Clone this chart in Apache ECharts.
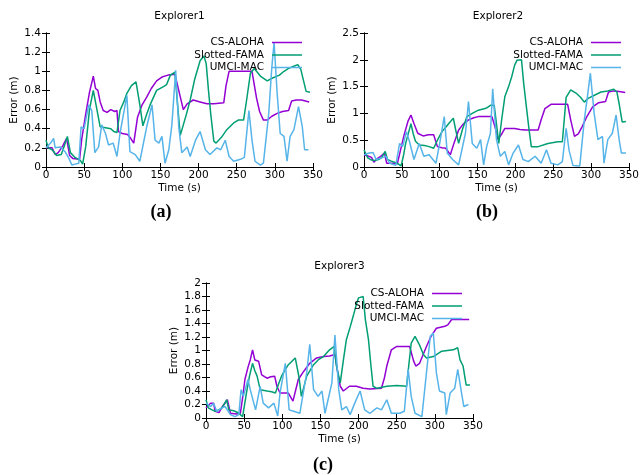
<!DOCTYPE html>
<html>
<head>
<meta charset="utf-8">
<script src="https://cdn.jsdelivr.net/npm/echarts@6/dist/echarts.min.js"></script>
<style>
  html, body { margin: 0; padding: 0; background: #fff; }
  #chart { width: 642px; height: 475px; }
</style>
</head>
<body>
<div id="chart"></div>
<script>
// series names and colours (gnuplot defaults)
var names = ['CS-ALOHA', 'Slotted-FAMA', 'UMCI-MAC'];
var colors = ['#9400d3', '#009e73', '#56b4e9'];
var panelTitles = ['Explorer1', 'Explorer2', 'Explorer3'];
var captions = ['(a)', '(b)', '(c)'];
var yMax = [1.4, 2.5, 2];
var yStep = [0.2, 0.5, 0.2];

// Explorer1 [time (s), error (m)]
var e1Aloha = [[0,0.20],[8,0.20],[12,0.13],[16,0.15],[22,0.22],[27,0.30],[31,0.12],[35,0.09],[44,0.08],[47,0.30],[52,0.55],[57,0.78],[62,0.95],[65,0.82],[68,0.80],[71,0.68],[75,0.59],[80,0.57],[85,0.60],[90,0.58],[93,0.59],[95,0.37],[100,0.35],[107,0.34],[111,0.30],[115,0.25],[120,0.52],[126,0.65],[132,0.73],[138,0.82],[145,0.90],[152,0.94],[160,0.96],[169,0.97],[174,0.80],[180,0.60],[185,0.66],[193,0.70],[202,0.68],[211,0.66],[220,0.66],[233,0.67],[236,0.85],[240,1.00],[255,1.00],[270,1.00],[276,0.72],[280,0.58],[285,0.49],[290,0.49],[296,0.53],[303,0.56],[310,0.58],[318,0.59],[322,0.69],[328,0.70],[335,0.70],[340,0.69],[345,0.68]];
var e1Fama = [[0,0.28],[3,0.20],[8,0.18],[14,0.12],[20,0.13],[24,0.22],[28,0.32],[32,0.15],[38,0.10],[45,0.07],[48,0.03],[52,0.21],[57,0.60],[62,0.80],[67,0.59],[71,0.42],[78,0.41],[85,0.40],[89,0.37],[93,0.36],[97,0.59],[102,0.68],[106,0.77],[112,0.85],[118,0.89],[123,0.65],[127,0.43],[132,0.55],[137,0.66],[145,0.80],[154,0.84],[158,0.86],[163,0.96],[169,0.99],[173,0.60],[176,0.33],[178,0.32],[184,0.55],[189,0.70],[195,0.92],[202,1.11],[207,1.16],[210,1.08],[213,0.80],[216,0.55],[220,0.27],[223,0.25],[230,0.31],[237,0.39],[246,0.46],[252,0.49],[259,0.49],[263,0.70],[268,0.98],[273,1.03],[281,0.95],[290,0.90],[297,0.93],[306,0.96],[312,1.00],[318,1.03],[324,1.05],[330,1.07],[334,1.02],[337,0.92],[341,0.79],[346,0.78]];
var e1Umci = [[0,0.20],[6,0.25],[10,0.30],[12,0.20],[19,0.21],[25,0.16],[30,0.09],[34,0.02],[38,0.03],[43,0.04],[46,0.42],[50,0.40],[56,0.65],[60,0.59],[64,0.15],[69,0.21],[73,0.44],[78,0.35],[82,0.23],[88,0.25],[93,0.11],[97,0.35],[104,0.66],[106,0.75],[110,0.16],[117,0.13],[123,0.06],[132,0.42],[139,0.65],[143,0.28],[148,0.25],[152,0.32],[156,0.04],[161,0.18],[165,0.44],[170,1.01],[174,0.42],[178,0.15],[185,0.21],[189,0.11],[196,0.28],[202,0.37],[209,0.18],[215,0.13],[224,0.20],[229,0.18],[235,0.28],[240,0.11],[246,0.06],[255,0.08],[260,0.10],[266,0.59],[270,0.28],[274,0.06],[281,0.02],[285,0.04],[292,0.56],[296,1.04],[299,1.30],[303,0.77],[307,0.35],[312,0.32],[316,0.06],[320,0.32],[325,0.39],[331,0.63],[336,0.42],[339,0.18],[344,0.18]];

// Explorer2
var e2Aloha = [[0,0.23],[6,0.20],[10,0.18],[13,0.09],[17,0.15],[22,0.20],[27,0.26],[30,0.07],[38,0.07],[44,0.06],[48,0.30],[53,0.60],[58,0.85],[62,0.97],[66,0.81],[71,0.63],[78,0.58],[85,0.60],[92,0.60],[97,0.38],[103,0.36],[108,0.35],[114,0.23],[119,0.45],[125,0.69],[131,0.80],[138,0.88],[145,0.92],[151,0.94],[160,0.94],[169,0.94],[174,0.70],[177,0.51],[182,0.62],[186,0.72],[193,0.72],[199,0.72],[206,0.70],[213,0.69],[222,0.69],[230,0.69],[234,0.88],[239,1.09],[247,1.17],[258,1.17],[269,1.17],[273,0.88],[278,0.57],[283,0.62],[288,0.75],[294,0.93],[302,1.12],[310,1.20],[319,1.22],[323,1.40],[330,1.42],[337,1.41],[345,1.39]];
var e2Fama = [[0,0.32],[5,0.17],[10,0.13],[14,0.12],[19,0.14],[23,0.17],[28,0.29],[31,0.14],[36,0.11],[40,0.09],[45,0.06],[49,0.02],[52,0.20],[55,0.44],[59,0.65],[62,0.81],[65,0.62],[68,0.48],[73,0.41],[80,0.40],[86,0.38],[92,0.35],[97,0.50],[103,0.66],[108,0.74],[112,0.81],[118,0.91],[121,0.70],[125,0.44],[130,0.70],[136,0.94],[143,1.00],[151,1.06],[160,1.09],[164,1.12],[167,1.15],[172,1.15],[175,0.80],[178,0.44],[182,0.90],[186,1.31],[191,1.50],[195,1.68],[199,1.90],[202,1.99],[208,2.00],[211,1.55],[215,1.06],[218,0.70],[221,0.38],[230,0.38],[243,0.44],[256,0.47],[262,0.47],[267,1.30],[273,1.44],[280,1.38],[286,1.30],[291,1.21],[296,1.28],[303,1.33],[313,1.40],[322,1.42],[330,1.45],[334,1.40],[337,1.18],[341,0.84],[346,0.85]];
var e2Umci = [[0,0.23],[7,0.26],[12,0.27],[16,0.14],[23,0.17],[29,0.20],[34,0.07],[42,0.03],[47,0.44],[51,0.38],[56,0.66],[60,0.48],[66,0.14],[73,0.44],[79,0.20],[86,0.23],[95,0.07],[100,0.44],[106,0.94],[110,0.26],[117,0.14],[125,0.04],[134,0.63],[138,1.22],[143,0.44],[149,0.35],[154,0.51],[158,0.04],[162,0.38],[167,0.63],[170,1.46],[175,0.51],[180,0.20],[186,0.29],[191,0.04],[197,0.26],[204,0.41],[210,0.14],[217,0.10],[226,0.20],[234,0.07],[241,0.32],[247,0.07],[256,0.04],[262,0.10],[267,0.72],[271,0.30],[276,0.03],[285,0.02],[291,0.88],[295,1.30],[299,1.75],[304,1.00],[309,0.51],[315,0.57],[317,0.07],[322,0.51],[328,0.63],[333,0.97],[337,0.51],[340,0.26],[346,0.26]];

// Explorer3
var e3Aloha = [[0,0.15],[6,0.22],[10,0.22],[12,0.10],[17,0.08],[22,0.18],[25,0.22],[28,0.27],[32,0.07],[40,0.06],[45,0.07],[48,0.30],[51,0.57],[55,0.75],[58,0.86],[61,1.01],[64,0.86],[69,0.84],[73,0.64],[80,0.59],[85,0.61],[90,0.62],[93,0.47],[97,0.37],[103,0.37],[108,0.37],[114,0.25],[121,0.57],[128,0.69],[136,0.81],[145,0.89],[154,0.91],[162,0.92],[169,0.94],[173,0.65],[176,0.47],[180,0.40],[188,0.47],[197,0.47],[206,0.44],[215,0.43],[230,0.44],[234,0.60],[237,0.77],[243,1.01],[250,1.06],[260,1.06],[267,1.06],[272,0.85],[275,0.77],[280,0.81],[289,1.06],[295,1.21],[302,1.33],[313,1.36],[317,1.38],[322,1.46],[335,1.46],[345,1.46]];
var e3Fama = [[0,0.27],[3,0.15],[8,0.12],[12,0.10],[17,0.12],[21,0.15],[27,0.27],[30,0.12],[35,0.11],[38,0.10],[43,0.07],[48,0.02],[53,0.37],[57,0.62],[61,0.81],[64,0.70],[67,0.62],[71,0.42],[80,0.40],[86,0.39],[91,0.37],[95,0.50],[99,0.62],[104,0.72],[108,0.79],[117,0.89],[119,0.89],[122,0.60],[125,0.32],[132,0.62],[141,0.79],[148,0.87],[154,0.91],[162,1.01],[168,1.06],[171,0.77],[176,0.52],[180,0.85],[184,1.16],[189,1.35],[193,1.51],[197,1.68],[200,1.78],[206,1.80],[209,1.45],[213,1.16],[216,0.80],[219,0.47],[224,0.44],[237,0.47],[250,0.48],[263,0.47],[266,0.80],[269,1.11],[274,1.21],[280,1.08],[285,0.94],[289,0.89],[298,0.91],[309,0.99],[324,1.01],[330,1.04],[333,0.86],[337,0.77],[341,0.49],[346,0.49]];
var e3Umci = [[0,0.22],[6,0.17],[10,0.22],[14,0.10],[21,0.15],[25,0.17],[32,0.05],[38,0.02],[43,0.05],[46,0.42],[49,0.32],[55,0.57],[58,0.42],[65,0.12],[71,0.47],[75,0.22],[82,0.15],[89,0.22],[94,0.03],[97,0.37],[104,0.81],[106,0.79],[109,0.12],[115,0.10],[123,0.07],[132,0.67],[136,1.09],[141,0.42],[147,0.32],[152,0.40],[156,0.07],[160,0.27],[165,0.52],[169,1.23],[174,0.42],[178,0.12],[184,0.17],[189,0.05],[195,0.22],[202,0.40],[208,0.12],[215,0.07],[224,0.15],[230,0.12],[237,0.27],[243,0.07],[254,0.07],[260,0.10],[265,0.72],[269,0.32],[274,0.07],[283,0.02],[289,0.67],[294,1.21],[298,1.26],[302,0.67],[306,0.40],[313,0.37],[315,0.05],[320,0.37],[326,0.44],[330,0.72],[335,0.37],[338,0.17],[344,0.20]];

var panelData = [
    [e1Aloha, e1Fama, e1Umci],
    [e2Aloha, e2Fama, e2Umci],
    [e3Aloha, e3Fama, e3Umci]
];

// layout of the three panels
var grids = [
    {left: 46, top: 33, width: 267, height: 134},
    {left: 364, top: 33, width: 268, height: 134},
    {left: 206, top: 283, width: 267, height: 135}
];
var legendRight = [340, 21, 180];
var legendTop = [37, 37, 288];
var captionPos = [[161, 212], [487, 212], [323, 465]];

var font = 'DejaVu Sans';
var fs = 10.5;

var xAxes = [], yAxes = [], series = [], legends = [], graphics = [];

grids.forEach(function (g, i) {
    // bottom axis
    xAxes.push({
        type: 'value', gridIndex: i, min: 0, max: 350, interval: 50,
        name: 'Time (s)', nameLocation: 'middle', nameGap: 16,
        nameTextStyle: {color: '#000', fontFamily: font, fontSize: fs},
        axisLine: {lineStyle: {color: '#000', width: 1}},
        axisTick: {inside: true, length: 4, lineStyle: {color: '#000'}},
        axisLabel: {color: '#000', fontFamily: font, fontSize: fs, margin: 3},
        splitLine: {show: false}
    });
    // mirror on top
    xAxes.push({
        type: 'value', gridIndex: i, position: 'top', min: 0, max: 350, interval: 50,
        axisLine: {lineStyle: {color: '#000', width: 1}},
        axisTick: {inside: true, length: 4, lineStyle: {color: '#000'}},
        axisLabel: {show: false},
        splitLine: {show: false}
    });
    yAxes.push({
        type: 'value', gridIndex: i, min: 0, max: yMax[i], interval: yStep[i],
        name: 'Error (m)', nameLocation: 'middle', nameGap: 26,
        nameTextStyle: {color: '#000', fontFamily: font, fontSize: fs},
        axisLine: {show: true, lineStyle: {color: '#000', width: 1}},
        axisTick: {show: true, inside: true, length: 4, lineStyle: {color: '#000'}},
        axisLabel: {color: '#000', fontFamily: font, fontSize: fs, margin: 5},
        splitLine: {show: false}
    });
    yAxes.push({
        type: 'value', gridIndex: i, position: 'right', min: 0, max: yMax[i], interval: yStep[i],
        axisLine: {show: true, lineStyle: {color: '#000', width: 1}},
        axisTick: {show: true, inside: true, length: 4, lineStyle: {color: '#000'}},
        axisLabel: {show: false},
        splitLine: {show: false}
    });

    panelData[i].forEach(function (d, k) {
        series.push({
            name: names[k],
            type: 'line',
            xAxisIndex: i * 2,
            yAxisIndex: i * 2,
            data: d,
            symbol: 'none',
            animation: false,
            lineStyle: {color: colors[k], width: 1.5},
            itemStyle: {color: colors[k]}
        });
    });

    legends.push({
        data: names,
        orient: 'vertical',
        align: 'right',
        icon: 'rect',
        right: legendRight[i],
        top: legendTop[i],
        padding: 0,
        itemGap: 1.5,
        itemWidth: 30,
        itemHeight: 1.5,
        selectedMode: false,
        textStyle: {color: '#000', fontFamily: font, fontSize: fs, padding: [0, 3, 0, 0]}
    });

    graphics.push({
        type: 'text',
        x: g.left + g.width / 2,
        y: g.top - 17,
        style: {
            text: panelTitles[i], font: fs + 'px "' + font + '"', fill: '#000',
            textAlign: 'center', textVerticalAlign: 'middle', align: 'center', verticalAlign: 'middle'
        }
    });
    graphics.push({
        type: 'text',
        x: captionPos[i][0],
        y: captionPos[i][1],
        style: {
            text: captions[i], font: 'bold 18px "Liberation Serif"', fill: '#000',
            textAlign: 'center', textVerticalAlign: 'middle', align: 'center', verticalAlign: 'middle'
        }
    });
});

var option = {
    animation: false,
    backgroundColor: '#fff',
    grid: grids,
    xAxis: xAxes,
    yAxis: yAxes,
    legend: legends,
    graphic: graphics,
    series: series
};

var myChart = echarts.init(document.getElementById('chart'));
myChart.setOption(option);
</script>
</body>
</html>
